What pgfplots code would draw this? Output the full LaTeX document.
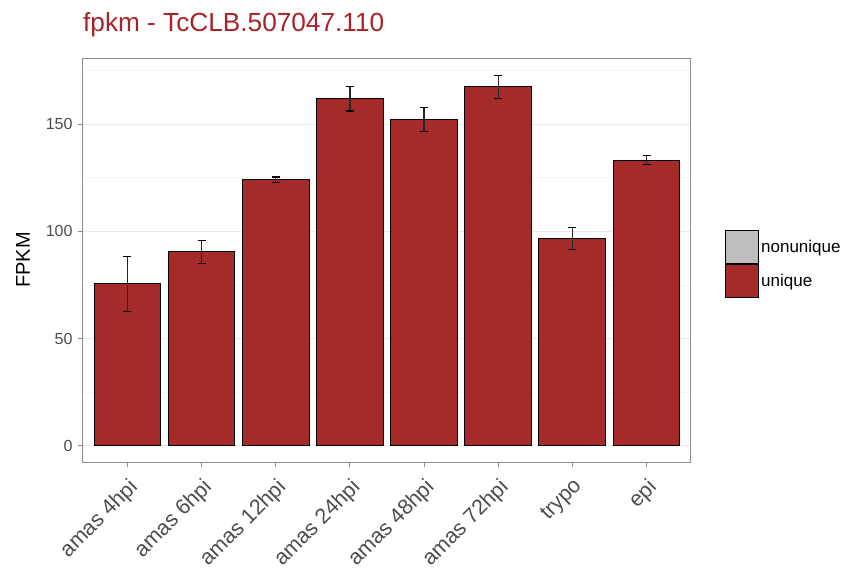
\documentclass[border=0pt]{standalone}
\usepackage{pgfplots}
\pgfplotsset{compat=1.18}
\usepackage{pgfplotstable}
\usepackage{fontspec}
\setmainfont{Liberation Sans}
\definecolor{barred}{RGB}{165,42,42}
\definecolor{titlered}{RGB}{170,34,40}
\definecolor{ticklab}{RGB}{77,77,77}
\definecolor{border}{RGB}{140,140,140}
\definecolor{gridmaj}{RGB}{232,232,232}
\definecolor{gridmin}{RGB}{245,245,245}
\definecolor{nonu}{RGB}{190,190,190}
\pgfplotstableread{
x y err
1 75.6 12.8
2 90.4 5.3
3 124.1 1.2
4 161.8 5.7
5 152.0 5.6
6 167.4 5.3
7 96.7 5.2
8 133.1 2.1
}\fpkm
\begin{document}
\begin{tikzpicture}
\path[use as bounding box] (-83pt,-112pt) rectangle (763pt,462pt);
\begin{axis}[
  at={(0,0)}, anchor=south west,
  scale only axis, width=608pt, height=404pt,
  xmin=0.4, xmax=8.6, ymin=-7.5, ymax=180.8,
  xtick={1,2,3,4,5,6,7,8},
  xticklabels={amas 4hpi,amas 6hpi,amas 12hpi,amas 24hpi,amas 48hpi,amas 72hpi,trypo,epi},
  ytick={0,50,100,150}, minor ytick={25,75,125,175},
  ymajorgrids, yminorgrids,
  major grid style={gridmaj, line width=1pt},
  minor grid style={gridmin, line width=0.8pt},
  axis line style={border, line width=1pt},
  tick style={border, line width=1pt},
  tick align=outside, major tick length=5pt, minor tick length=0pt,
  xtick pos=lower, ytick pos=left,
  /pgf/number format/assume math mode=true,
  tick label style={font=\fontsize{16}{18}\selectfont, text=ticklab},
  yticklabel style={xshift=-2pt},
  xticklabel style={font=\fontsize{21.5}{23}\selectfont, rotate=45, anchor=north east, inner sep=7pt},
  ylabel={FPKM},
  ylabel style={font=\fontsize{20}{22}\selectfont, at={(axis description cs:-0.0987,0.5)}, anchor=center},
  title={fpkm - TcCLB.507047.110},
  title style={font=\fontsize{26.2}{28}\selectfont, text=titlered, at={(axis description cs:0,1)}, anchor=base west, yshift=21pt, inner sep=0pt},
  legend style={at={(axis description cs:1.0559,0.491)}, anchor=west, draw=none, fill=none, inner sep=0pt, row sep=0pt, font=\fontsize{17}{19}\selectfont, cells={anchor=west}, nodes={inner sep=2pt}},
]
\addlegendimage{legend image code/.code={\draw[fill=nonu,draw=black,line width=1pt] (0pt,-16.5pt) rectangle (33pt,16.5pt);}}
\addlegendentry{nonunique}
\addplot[ybar, bar width=0.9, fill=barred, draw=black, line width=1pt,
  legend image code/.code={\draw[fill=barred,draw=black,line width=1pt] (0pt,-16.5pt) rectangle (33pt,16.5pt);},
  error bars/.cd, y dir=both, y explicit,
  error bar style={black!85, line width=1.2pt},
  error mark options={black, line width=1.2pt, mark size=4pt, rotate=90}]
  table[x=x, y=y, y error=err]{\fpkm};
\addlegendentry{unique}
\end{axis}
\end{tikzpicture}
\end{document}
